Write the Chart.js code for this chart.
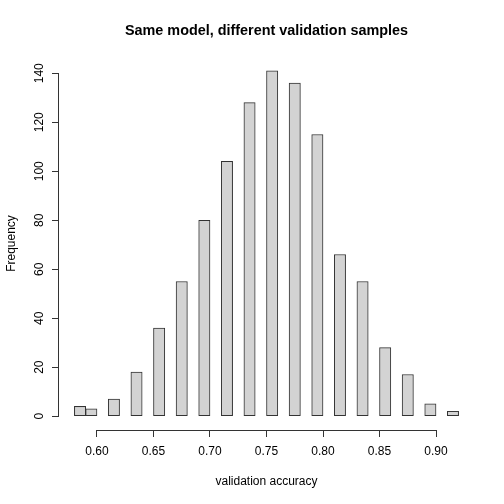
<!DOCTYPE html>
<html>
<head>
<meta charset="utf-8">
<script src="https://cdn.jsdelivr.net/npm/chart.js@4"></script>
<style>
  html, body { margin: 0; padding: 0; background: #ffffff; }
  #wrap { width: 504px; height: 504px; }
</style>
</head>
<body>
<div id="wrap"><canvas id="c" width="504" height="504"></canvas></div>
<script>
// ---- data ----
const binStarts = [0.58, 0.59, 0.61, 0.63, 0.65, 0.67, 0.69, 0.71, 0.73, 0.75, 0.77, 0.79, 0.81, 0.83, 0.85, 0.87, 0.89, 0.91];
const counts    = [4, 3, 7, 18, 36, 55, 80, 104, 128, 141, 136, 115, 66, 55, 28, 17, 5, 2];
const binWidth  = 0.01;
const xTicks = [0.60, 0.65, 0.70, 0.75, 0.80, 0.85, 0.90];
const yTicks = [0, 20, 40, 60, 80, 100, 120, 140];
const titleText = 'Same model, different validation samples';
const xLabel = 'validation accuracy';
const yLabel = 'Frequency';

// R-style 4% range extension
const xLo = binStarts[0], xHi = binStarts[binStarts.length - 1] + binWidth;
const xPad = (xHi - xLo) * 0.04;
const yMaxData = Math.max(...counts);
const yPad = yMaxData * 0.04;

const FONT = '"Liberation Sans", Arial, Helvetica, sans-serif';
const axisColor = '#333333';

const barData = binStarts.map((s, i) => ({ x: s + binWidth / 2, y: counts[i] }));

const axisLines = {
  id: 'axisLines',
  afterDraw(chart) {
    const ctx = chart.ctx;
    const xs = chart.scales.x, ys = chart.scales.y;
    ctx.save();
    ctx.strokeStyle = axisColor;
    ctx.lineWidth = 1;
    ctx.beginPath();
    const yx = Math.round(xs.top) + 0.5;
    ctx.moveTo(Math.round(xs.getPixelForValue(xTicks[0])) , yx);
    ctx.lineTo(Math.round(xs.getPixelForValue(xTicks[xTicks.length - 1])) + 1, yx);
    const xy = Math.round(ys.right) - 0.5;
    ctx.moveTo(xy, Math.round(ys.getPixelForValue(yTicks[0])) + 1);
    ctx.lineTo(xy, Math.round(ys.getPixelForValue(yTicks[yTicks.length - 1])));
    ctx.stroke();
    ctx.restore();
  }
};

new Chart(document.getElementById('c'), {
  type: 'bar',
  data: {
    datasets: [{
      data: barData,
      backgroundColor: '#d3d3d3',
      borderColor: axisColor,
      borderWidth: 1,
      borderSkipped: false,
      categoryPercentage: 1.0,
      barPercentage: 1.0
    }]
  },
  options: {
    responsive: false,
    devicePixelRatio: 1,
    animation: false,
    layout: { padding: { left: 0, right: 30, top: 0, bottom: 0 } },
    plugins: {
      legend: { display: false },
      tooltip: { enabled: false },
      title: {
        display: true,
        text: titleText,
        fullSize: false,
        color: '#000000',
        font: { family: FONT, size: 14.4, weight: 'bold' },
        padding: { top: 22, bottom: 17.7 }
      }
    },
    scales: {
      x: {
        type: 'linear',
        offset: false,
        min: xLo - xPad,
        max: xHi + xPad,
        afterBuildTicks: (s) => { s.ticks = xTicks.map(v => ({ value: v })); },
        afterFit: (s) => { s.height = 74; },
        border: { display: false },
        grid: { offset: false, drawOnChartArea: false, drawTicks: true, tickLength: 7, color: axisColor, lineWidth: 1 },
        ticks: {
          color: '#000000', font: { family: FONT, size: 12 }, padding: 7,
          maxRotation: 0, minRotation: 0, autoSkip: false,
          callback: (v) => Number(v).toFixed(2)
        },
        title: {
          display: true, text: xLabel, color: '#000000',
          font: { family: FONT, size: 12 }, padding: { top: 0, bottom: 15 }
        }
      },
      y: {
        type: 'linear',
        min: -yPad,
        max: yMaxData + yPad,
        afterBuildTicks: (s) => { s.ticks = yTicks.map(v => ({ value: v })); },
        afterFit: (s) => { s.width = 59; },
        border: { display: false },
        grid: { drawOnChartArea: false, drawTicks: true, tickLength: 7, color: axisColor, lineWidth: 1 },
        ticks: {
          color: '#000000', font: { family: FONT, size: 12 }, padding: 2,
          minRotation: 90, maxRotation: 90, crossAlign: 'center', autoSkip: false,
          callback: (v) => String(v)
        },
        title: {
          display: true, text: yLabel, color: '#000000',
          font: { family: FONT, size: 12 }, padding: { top: 4.5, bottom: 0 }
        }
      }
    }
  },
  plugins: [axisLines]
});
</script>
</body>
</html>
